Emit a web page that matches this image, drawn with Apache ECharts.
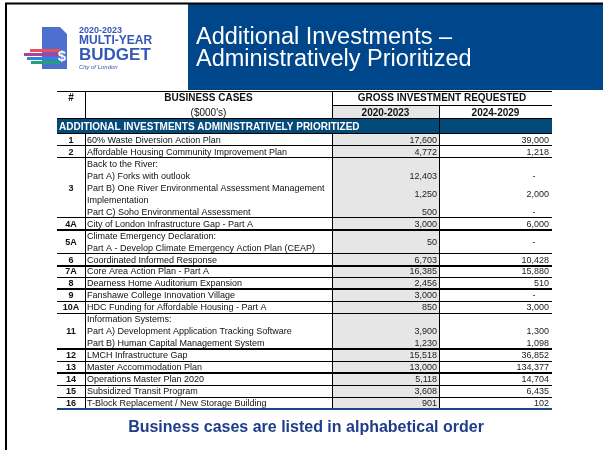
<!DOCTYPE html>
<html>
<head>
<meta charset="utf-8">
<script src="https://cdn.jsdelivr.net/npm/echarts@6/dist/echarts.min.js"></script>
<style>html,body{margin:0;padding:0;background:#fff;}#c{width:603px;height:450px;}</style>
</head>
<body>
<div id="c"></div>
<script>
// ---------------- DATA ----------------
const caseIds = ['1','2','3','4A','5A','6','7A','8','9','10A','11','12','13','14','15','16'];
// each entry belongs to a case (index into caseIds)
const entryCase = [0,1,2,2,2,2,3,4,5,6,7,8,9,10,10,10,11,12,13,14,15];
const entryLabels = [
  ['60% Waste Diversion Action Plan'],
  ['Affordable Housing Community Improvement Plan'],
  ['Back to the River:'],
  ['Part A) Forks with outlook'],
  ['Part B) One River Environmental Assessment Management','Implementation'],
  ['Part C) Soho Environmental Assessment'],
  ['City of London Infrastructure Gap - Part A'],
  ['Climate Emergency Declaration:','Part A - Develop Climate Emergency Action Plan (CEAP)'],
  ['Coordinated Informed Response'],
  ['Core Area Action Plan - Part A'],
  ['Dearness Home Auditorium Expansion'],
  ['Fanshawe College Innovation Village'],
  ['HDC Funding for Affordable Housing - Part A'],
  ['Information Systems:'],
  ['Part A) Development Application Tracking Software'],
  ['Part B) Human Capital Management System'],
  ['LMCH Infrastructure Gap'],
  ['Master Accommodation Plan'],
  ['Operations Master Plan 2020'],
  ['Subsidized Transit Program'],
  ['T-Block Replacement / New Storage Building']
];
// null = blank cell, 0 = shown as "-"
const invest2020_2023 = [17600,4772,null,12403,1250,500,3000,50,6703,16385,2456,3000,850,null,3900,1230,15518,13000,5118,3608,901];
const invest2024_2029 = [39000,1218,null,0,2000,0,6000,0,10428,15880,510,0,3000,null,1300,1098,36852,134377,14704,6435,102];
const headerTexts = ['#','BUSINESS CASES','($000\'s)','GROSS INVESTMENT REQUESTED','2020-2023','2024-2029'];
const bandText = 'ADDITIONAL INVESTMENTS ADMINISTRATIVELY PRIORITIZED';

// ---------------- LAYOUT ----------------
const FONT = 'Liberation Sans, Arial, Helvetica, sans-serif';
const W = 495;                       // x-axis units = table width
const COL = {id:28, name:275, v1:382};
const headerRows = [1.254, 1.087, 1.254];   // in data-line units
const bandTop = headerRows[0] + headerRows[1];
const bandEnd = bandTop + headerRows[2];
const thickAfter = ['4A','6','8','11','13'];

let cursor = bandEnd;
const entrySpans = entryLabels.map(l => { const s = cursor; cursor += l.length; return [s, cursor]; });
const totalUnits = cursor;
const caseSpans = caseIds.map((id, ci) => {
  let s = Infinity, e = -Infinity;
  entryCase.forEach((c, k) => { if (c === ci) { s = Math.min(s, entrySpans[k][0]); e = Math.max(e, entrySpans[k][1]); } });
  return [s, e, ci];
});

function crisp(v, lw){ return lw % 2 ? Math.round(v - 0.5) + 0.5 : Math.round(v); }
function txt(text, x, y, opt){
  opt = opt || {};
  return {type:'text', silent:true, style:{text:text, x:x, y:y, fill:opt.fill||'#111',
    fontSize:opt.size||9, fontFamily:FONT, fontWeight:opt.weight||'normal',
    align:opt.align||'left', verticalAlign:'middle', textAlign:opt.align||'left', textVerticalAlign:'middle'}};
}
function hline(api, x0, x1, y, lw, color){
  const a = api.coord([x0, y]), b = api.coord([x1, y]);
  const yy = crisp(a[1], lw);
  return {type:'line', silent:true, shape:{x1:a[0], y1:yy, x2:b[0], y2:yy}, style:{stroke:color||'#000', lineWidth:lw}};
}
function vline(api, x, y0, y1, lw, color){
  const a = api.coord([x, y0]), b = api.coord([x, y1]);
  const xx = crisp(a[0], lw);
  return {type:'line', silent:true, shape:{x1:xx, y1:a[1], x2:xx, y2:b[1]}, style:{stroke:color||'#000', lineWidth:lw}};
}
function fmt(v){ return v === 0 ? '-' : v.toLocaleString('en-US'); }

const frameSeries = {
  type:'custom', silent:true, clip:false, z:1,
  data:[[0, 0]],
  renderItem: function(params, api){
    const ch = [];
    const g0 = api.coord([COL.name, headerRows[0]]), g1 = api.coord([COL.v1, totalUnits]);
    ch.push({type:'rect', shape:{x:g0[0], y:g0[1], width:g1[0]-g0[0], height:g1[1]-g0[1]}, style:{fill:'#e6e6e6'}});
    const b0 = api.coord([0, bandTop]), b1 = api.coord([W, bandEnd]);
    ch.push({type:'rect', shape:{x:b0[0], y:Math.round(b0[1]), width:b1[0]-b0[0], height:Math.round(b1[1])-Math.round(b0[1])}, style:{fill:'#034a7b'}});
    ch.push(hline(api, 0, W, 0, 1));
    ch.push(hline(api, COL.name, W, headerRows[0], 1));
    ch.push(hline(api, 0, W, bandTop, 1));
    ch.push(hline(api, 0, W, bandEnd, 1));
    ch.push(vline(api, COL.id, 0, bandTop, 1));
    ch.push(vline(api, COL.id, bandEnd, totalUnits, 1));
    ch.push(vline(api, COL.name, 0, bandTop, 1));
    ch.push(vline(api, COL.name, bandEnd, totalUnits, 1));
    ch.push(vline(api, COL.v1, headerRows[0], totalUnits, 1));
    const r1 = api.coord([0, headerRows[0]/2])[1];
    const r2 = api.coord([0, headerRows[0] + headerRows[1]/2])[1];
    const rb = api.coord([0, (bandTop + bandEnd)/2])[1];
    const cx = u => api.coord([u, 0])[0];
    ch.push(txt(headerTexts[0], cx(COL.id/2), r1, {weight:'bold', size:10, align:'center'}));
    ch.push(txt(headerTexts[1], cx((COL.id+COL.name)/2), r1, {weight:'bold', size:10, align:'center'}));
    ch.push(txt(headerTexts[2], cx((COL.id+COL.name)/2), r2+0.5, {size:10, align:'center'}));
    ch.push(txt(headerTexts[3], cx((COL.name+W)/2), r1, {weight:'bold', size:10, align:'center'}));
    ch.push(txt(headerTexts[4], cx((COL.name+COL.v1)/2), r2+0.5, {weight:'bold', size:10, align:'center'}));
    ch.push(txt(headerTexts[5], cx((COL.v1+W)/2), r2+0.5, {weight:'bold', size:10, align:'center'}));
    ch.push(txt(bandText, cx(2), rb+0.5, {weight:'bold', size:10, fill:'#fff'}));
    ch.push(hline(api, 0, W, totalUnits, 2, '#1c4587'));
    return {type:'group', children:ch};
  }
};

const caseSeries = {
  type:'custom', silent:true, clip:false, z:2,
  data: caseSpans,
  renderItem: function(params, api){
    const s = api.value(0), e = api.value(1), ci = api.value(2);
    const id = caseIds[ci];
    const ch = [];
    const mid = api.coord([COL.id/2, (s+e)/2]);
    ch.push(txt(id, mid[0], mid[1]+0.5, {weight:'bold', size:9, align:'center'}));
    if (ci < caseIds.length - 1) ch.push(hline(api, 0, W, e, thickAfter.indexOf(id) >= 0 ? 2 : 1));
    return {type:'group', children:ch};
  }
};

const entrySeries = {
  type:'custom', silent:true, clip:false, z:3,
  data: entrySpans.map((sp, k) => [sp[0], sp[1], k]),
  renderItem: function(params, api){
    const s = api.value(0), e = api.value(1), k = api.value(2);
    const ch = [];
    entryLabels[k].forEach((line, j) => {
      const p = api.coord([COL.id + 2, s + j + 0.5]);
      ch.push(txt(line, p[0], p[1]+0.5, {size:9}));
    });
    const midY = api.coord([0, (s+e)/2])[1] + 0.5;
    const v1 = invest2020_2023[k], v2 = invest2024_2029[k];
    if (v1 != null) ch.push(txt(fmt(v1), api.coord([COL.v1 - 2, 0])[0], midY, {size:9, align:'right', fill:'#222'}));
    if (v2 != null) {
      if (v2 === 0) ch.push(txt('-', api.coord([W - 18, 0])[0], midY, {size:9, align:'center', fill:'#222'}));
      else ch.push(txt(fmt(v2), api.coord([W - 3, 0])[0], midY, {size:9, align:'right', fill:'#222'}));
    }
    return {type:'group', children:ch};
  }
};

function gtext(text, x, y, size, extra){
  return {type:'text', style:Object.assign({text:text, x:x, y:y, fill:'#3457b8', fontSize:size, fontWeight:'bold', fontFamily:FONT, verticalAlign:'middle', textVerticalAlign:'middle'}, extra||{})};
}

const chart = echarts.init(document.getElementById('c'), null, {renderer:'canvas'});
chart.setOption({
  animation:false,
  backgroundColor:'#fff',
  title:{text:'Additional Investments –\nAdministratively Prioritized', left:196, top:27, padding:0,
    textStyle:{color:'#fff', fontSize:23.5, lineHeight:22, fontWeight:'normal', fontFamily:FONT}},
  grid:{left:57, top:91, width:W, height:318},
  xAxis:{type:'value', min:0, max:W, show:false},
  yAxis:{type:'value', min:0, max:totalUnits, inverse:true, show:false},
  graphic:[
    {type:'rect', z:-1, shape:{x:188, y:4, width:415, height:86}, style:{fill:'#00468b'}},
    {type:'line', shape:{x1:5, y1:3.5, x2:603, y2:3.5}, style:{stroke:'#000', lineWidth:2}},
    {type:'line', shape:{x1:6, y1:3, x2:6, y2:450}, style:{stroke:'#000', lineWidth:2}},
    // logo
    {type:'polygon', shape:{points:[[42,27],[60,27],[67,34],[67,69],[42,69]]}, style:{fill:'#4d6fcf'}},
    {type:'rect', shape:{x:30, y:49, width:30, height:3}, style:{fill:'#e8505b'}},
    {type:'rect', shape:{x:24, y:53, width:36, height:3}, style:{fill:'#b0409a'}},
    {type:'rect', shape:{x:27, y:57, width:33, height:3}, style:{fill:'#2e86d8'}},
    {type:'rect', shape:{x:31, y:61, width:29, height:3}, style:{fill:'#1fa37a'}},
    gtext('$', 62, 57, 15, {fill:'#fff', align:'center', textAlign:'center'}),
    gtext('2020-2023', 79, 31, 9),
    gtext('MULTI-YEAR', 79, 41, 12),
    gtext('BUDGET', 79, 55, 17),
    gtext('City of London', 79, 67, 6, {fontWeight:'normal', fontStyle:'italic'}),
    // note
    {type:'text', style:{text:'Business cases are listed in alphabetical order', x:306, y:428, fill:'#1f3d8a', fontSize:16, fontWeight:'bold', fontFamily:FONT, align:'center', verticalAlign:'middle', textAlign:'center', textVerticalAlign:'middle'}}
  ],
  series:[frameSeries, caseSeries, entrySeries]
});
</script>
</body>
</html>
